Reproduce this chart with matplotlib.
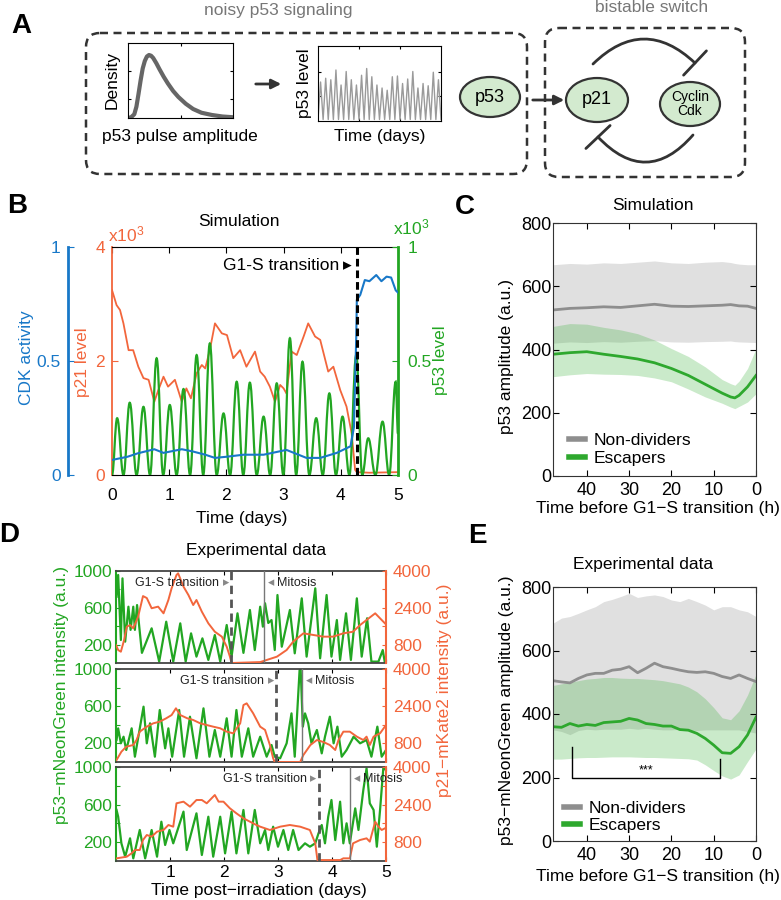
"""
p53 pulses, p21 and the G1-S switch: schematic, simulation and experimental panels A-E.
"""
import matplotlib
matplotlib.use("Agg")
import matplotlib.pyplot as plt
from matplotlib.patches import FancyBboxPatch, Ellipse, FancyArrowPatch, PathPatch
from matplotlib.path import Path
from matplotlib.lines import Line2D

# ---------------- data ----------------
# A: schematic density of pulse amplitudes and a noisy pulse train
dens_x = [0, 0.03, 0.06, 0.08, 0.10, 0.12, 0.14, 0.16, 0.18, 0.20, 0.22, 0.24, 0.27,
          0.30, 0.34, 0.38, 0.43, 0.48, 0.55, 0.62, 0.70, 0.80, 0.90, 1.0]
dens_y = [0, 0.01, 0.05, 0.15, 0.32, 0.50, 0.66, 0.76, 0.82, 0.84, 0.83, 0.80, 0.73,
          0.65, 0.55, 0.46, 0.36, 0.28, 0.19, 0.12, 0.07, 0.04, 0.02, 0.01]
train_peaks = [0.52, 0.57, 0.55, 0.68, 0.48, 0.66, 0.55, 0.48, 0.61, 0.70, 0.59, 0.48,
               0.44, 0.41, 0.59, 0.60, 0.50, 0.56, 0.66, 0.44, 0.50, 0.47, 0.65, 0.55]

# B: simulation (days)
b_p21_t = [0, 0.08, 0.14, 0.2, 0.29, 0.37, 0.46, 0.55, 0.64, 0.74, 0.81, 0.9, 0.98, 1.1,
           1.22, 1.3, 1.38, 1.48, 1.57, 1.63, 1.71, 1.8, 1.92, 2.01, 2.12, 2.24, 2.35,
           2.5, 2.59, 2.67, 2.76, 2.85, 2.94, 3.0, 3.05, 3.14, 3.23, 3.35, 3.43, 3.55,
           3.64, 3.78, 3.87, 3.99, 4.1, 4.19, 4.25, 4.28, 4.5, 5.0]
b_p21 = [3245, 2980, 2895, 2660, 2190, 2190, 1900, 1700, 1670, 1286, 1490, 1725, 1550,
         1670, 1286, 1520, 1345, 1785, 1930, 1870, 2190, 2660, 2485, 2455, 2050, 2190,
         1900, 2165, 1815, 1725, 1550, 1286, 1580, 1520, 1430, 2165, 2105, 2430, 2660,
         2430, 2370, 1815, 1900, 1490, 1200, 730, 90, 50, 40, 50]
b_p53_t = [0.09, 0.31, 0.55, 0.78, 1.01, 1.25, 1.48, 1.71, 1.95, 2.18, 2.41, 2.65, 2.88,
           3.11, 3.33, 3.57, 3.80, 4.03, 4.27, 4.48, 4.73, 4.96]
b_p53 = [249, 317, 299, 512, 307, 377, 526, 577, 270, 409, 405, 256, 402, 600, 497, 249,
         358, 256, 526, 161, 234, 409]
b_cdk_t = [0, 0.27, 0.45, 0.74, 0.9, 1.22, 1.4, 1.63, 1.8, 2.0, 2.3, 2.65, 3.05, 3.4,
           3.64, 3.93, 4.17, 4.23, 4.27, 4.28, 4.34, 4.42, 4.5, 4.62, 4.71, 4.8, 4.88,
           4.96, 5.0]
b_cdk = [0.066, 0.08, 0.095, 0.113, 0.097, 0.113, 0.104, 0.089, 0.075, 0.08, 0.089,
         0.089, 0.11, 0.075, 0.075, 0.097, 0.126, 0.21, 0.607, 0.768, 0.79, 0.855, 0.85,
         0.877, 0.85, 0.87, 0.866, 0.81, 0.80]
b_g1s = 4.28

# C: simulation, hours before G1-S
c_t = [48, 44, 40, 36, 32, 28, 24, 20, 16, 12, 8, 6, 5, 4, 2, 0]
c_non_mean = [525, 530, 532, 535, 533, 538, 543, 537, 536, 538, 540, 542, 540, 538, 537, 530]
c_non_hi = [668, 672, 670, 674, 672, 676, 680, 674, 672, 676, 678, 675, 672, 670, 668, 668]
c_non_lo = [420, 424, 422, 425, 423, 426, 428, 424, 423, 425, 426, 427, 425, 424, 423, 422]
c_esc_mean = [385, 390, 393, 385, 378, 370, 358, 340, 318, 290, 262, 250, 247, 255, 282, 318]
c_esc_hi = [473, 482, 480, 470, 462, 450, 430, 403, 378, 345, 305, 292, 287, 300, 340, 403]
c_esc_lo = [314, 320, 324, 322, 321, 318, 310, 298, 275, 250, 230, 218, 213, 220, 234, 260]

# D: three experimental cells (days post-irradiation)
d1_t = [0.01, 0.04, 0.09, 0.12, 0.17, 0.23, 0.27, 0.32, 0.35, 0.39, 0.48, 0.66, 0.80, 0.93,
        1.06, 1.19, 1.29, 1.39, 1.49, 1.60, 1.71, 1.83, 1.93, 2.05, 2.14, 2.25, 2.36, 2.48,
        2.57, 2.67, 2.72, 2.76, 2.82, 2.88, 2.94, 2.99, 3.07, 3.22, 3.31, 3.44, 3.53, 3.69,
        3.78, 3.90, 3.99, 4.09, 4.15, 4.26, 4.35, 4.46, 4.55, 4.65, 4.73, 4.86, 4.94, 4.98]
d1_p53 = [720, 957, 250, 920, 232, 612, 360, 612, 360, 630, 110, 377, 15, 449, 15, 431, 15,
          322, 69, 268, 33, 304, 15, 413, 69, 540, 110, 576, 141, 612, 395, 649, 435, 467,
          141, 739, 177, 576, 105, 703, 69, 812, 51, 739, 69, 467, 33, 540, 33, 703, 69,
          486, 15, 15, 141, 0]
d1_p21_t = [0.0, 0.04, 0.09, 0.15, 0.2, 0.26, 0.32, 0.41, 0.5, 0.57, 0.66, 0.78, 0.88, 0.97,
            1.03, 1.12, 1.15, 1.25, 1.34, 1.43, 1.49, 1.59, 1.71, 1.83, 1.96, 2.05, 2.11,
            2.14, 2.67, 2.98, 3.16, 3.28, 3.47, 3.65, 3.84, 4.02, 4.21, 4.39, 4.52, 4.64,
            4.80, 4.92, 4.98]
d1_p21 = [783, 565, 490, 1000, 1580, 1650, 1510, 2015, 2910, 2825, 2380, 2450, 2160, 2740,
          3250, 3825, 3900, 3320, 2960, 2520, 2740, 2230, 1725, 1360, 1145, 710, 275, 0, 40,
          275, 565, 925, 1290, 1220, 1145, 1145, 1290, 1360, 1650, 1870, 2160, 1870, 1725]

d2_t = [0.01, 0.04, 0.09, 0.14, 0.19, 0.29, 0.35, 0.51, 0.57, 0.63, 0.72, 0.81, 0.91, 0.97,
        1.04, 1.17, 1.26, 1.37, 1.49, 1.62, 1.73, 1.83, 1.93, 2.05, 2.14, 2.23, 2.33, 2.45,
        2.54, 2.67, 2.79, 2.88, 2.94, 3.04, 3.16, 3.25, 3.31, 3.40, 3.42, 3.46, 3.50, 3.56,
        3.62, 3.72, 3.81, 3.87, 3.96, 4.03, 4.10, 4.18, 4.27, 4.40, 4.52, 4.64, 4.73, 4.84,
        4.92, 5.0]
d2_p53 = [237, 362, 201, 272, 129, 362, 57, 595, 201, 416, 57, 559, 147, 362, 57, 559, 57,
          487, 40, 577, 57, 344, 57, 470, 57, 559, 57, 362, 57, 272, 57, 183, 57, 40, 201,
          523, 57, 990, 990, 380, 523, 416, 201, 344, 93, 272, 487, 201, 380, 57, 129, 272,
          201, 237, 57, 380, 57, 129]
d2_p21_t = [0.01, 0.1, 0.19, 0.32, 0.38, 0.44, 0.57, 0.69, 0.81, 0.93, 1.03, 1.11, 1.19,
            1.32, 1.43, 1.56, 1.68, 1.80, 1.93, 2.05, 2.17, 2.30, 2.36, 2.42, 2.54, 2.67,
            2.76, 2.85, 2.91, 2.94, 3.41, 3.47, 3.60, 3.72, 3.84, 3.96, 4.06, 4.12, 4.21,
            4.33, 4.46, 4.58, 4.64, 4.70, 4.77, 4.89, 5.0]
d2_p21 = [86, 443, 658, 731, 946, 1305, 1520, 1663, 1735, 1880, 2020, 2310, 2020, 1880,
          1806, 1663, 1590, 1520, 1450, 1305, 1234, 1663, 2450, 2523, 2095, 1520, 1380, 731,
          158, 0, 0, 300, 731, 946, 860, 731, 516, 946, 1305, 1305, 1090, 946, 1090, 731,
          1090, 1234, 1590]

d3_t = [0.01, 0.04, 0.1, 0.17, 0.26, 0.32, 0.44, 0.54, 0.66, 0.76, 0.84, 0.91, 0.99, 1.06,
        1.25, 1.31, 1.49, 1.59, 1.71, 1.80, 1.93, 2.02, 2.14, 2.23, 2.36, 2.45, 2.57, 2.67,
        2.76, 2.82, 2.91, 3.0, 3.10, 3.19, 3.28, 3.38, 3.50, 3.59, 3.69, 3.75, 3.81, 3.87,
        3.93, 3.99, 4.06, 4.15, 4.21, 4.27, 4.33, 4.43, 4.49, 4.58, 4.64, 4.70, 4.77, 4.83,
        4.89, 4.95, 5.0]
d3_p53 = [543, 471, 188, 46, 241, 28, 330, 28, 330, 46, 418, 170, 330, 188, 525, 117, 507,
          64, 471, 46, 471, 81, 525, 81, 543, 81, 543, 188, 330, 117, 365, 152, 330, 117,
          330, 117, 188, 152, 188, 294, 383, 188, 471, 649, 223, 631, 188, 401, 188, 560,
          330, 755, 986, 613, 543, 152, 543, 986, 968]
d3_p21_t = [0.01, 0.2, 0.29, 0.35, 0.44, 0.5, 0.57, 0.66, 0.76, 0.88, 0.97, 1.06, 1.12,
            1.25, 1.37, 1.49, 1.59, 1.68, 1.77, 1.83, 1.90, 1.99, 2.11, 2.23, 2.36, 2.48,
            2.60, 2.67, 2.85, 3.04, 3.22, 3.41, 3.59, 3.69, 3.73, 4.15, 4.21, 4.33, 4.39,
            4.52, 4.64, 4.70, 4.80, 4.86, 4.92, 4.98]
d3_p21 = [113, 184, 328, 468, 468, 894, 1106, 1035, 1248, 1320, 1532, 1460, 2455, 2525,
          2312, 2596, 2596, 2455, 2667, 2808, 2525, 2525, 2241, 2028, 1816, 1674, 1532, 1461,
          1320, 1461, 1532, 1461, 1320, 752, 40, 40, 113, 113, 752, 894, 965, 823, 1674,
          1461, 1320, 1390]
d_g1s = [2.13, 2.96, 3.75]
d_mitosis = [2.74, 3.44, 4.34]

# E: experimental, hours before G1-S
e_t = [48, 46, 44, 42, 40, 38, 36, 34, 32, 30, 28, 26, 24, 22, 20, 18, 16, 14, 12, 10, 8, 6, 4, 2, 0]
e_non_mean = [505, 501, 498, 512, 523, 528, 528, 538, 541, 549, 530, 544, 560, 549, 544, 538,
              533, 531, 533, 528, 518, 512, 523, 512, 502]
e_non_hi = [686, 702, 707, 717, 728, 738, 754, 761, 770, 780, 767, 772, 775, 770, 759, 754,
            764, 754, 743, 728, 738, 738, 728, 722, 707]
e_non_lo = [350, 345, 335, 348, 352, 350, 352, 352, 352, 355, 352, 355, 352, 350, 350, 352,
            350, 348, 350, 350, 350, 350, 350, 345, 340]
e_esc_mean = [360, 358, 370, 362, 367, 364, 373, 375, 377, 386, 381, 370, 367, 362, 362, 351,
              349, 339, 323, 302, 278, 276, 297, 334, 390]
e_esc_hi = [490, 495, 500, 505, 510, 512, 515, 515, 513, 512, 512, 510, 508, 505, 500, 495,
            485, 470, 448, 420, 388, 382, 410, 460, 525]
e_esc_lo = [258, 258, 260, 262, 263, 263, 264, 265, 265, 265, 264, 263, 263, 262, 261, 260,
            259, 255, 240, 222, 205, 195, 208, 250, 290]
e_bracket_t = [43.6, 8.4]
e_bracket_y = [296, 200, 258]

# ---------------- style ----------------
plt.rcParams["font.family"] = ["Liberation Sans", "DejaVu Sans"]
plt.rcParams["mathtext.fontset"] = "custom"
plt.rcParams["mathtext.rm"] = "Liberation Sans"
plt.rcParams["mathtext.default"] = "regular"

ORANGE = "#f2663c"
GREEN = "#22a622"
BLUE = "#1878c8"
NODE = "#d3eacf"
DARK = "#333333"
FS = 12.5

W, H = 781, 900
fig = plt.figure(figsize=(W / 100, H / 100), dpi=100)


def px_axes(x0, y0, x1, y1):
    return fig.add_axes([x0 / W, 1 - y1 / H, (x1 - x0) / W, (y1 - y0) / H])


def put(s, x, y, **kw):
    kw.setdefault("fontsize", FS)
    kw.setdefault("ha", "center")
    kw.setdefault("va", "center")
    return fig.text(x / W, 1 - y / H, s, **kw)


def smooth_path(pts):
    # cubic segments with flat tangents at every peak / trough vertex
    verts, codes = [pts[0]], [Path.MOVETO]
    for (xa, ya), (xb, yb) in zip(pts[:-1], pts[1:]):
        d = (xb - xa) * 0.4
        verts += [(xa + d, ya), (xb - d, yb), (xb, yb)]
        codes += [Path.CURVE4] * 3
    return Path(verts, codes)


bg = fig.add_axes([0, 0, 1, 1])
bg.set_xlim(0, W)
bg.set_ylim(H, 0)
bg.axis("off")

# ---------------- A ----------------
put("A", 21, 26, fontsize=20, weight="bold")
put("noisy p53 signaling", 278, 11, color="#777777")
put("bistable switch", 652, 8, color="#777777")
for (x, y, w, h) in [(86, 33, 441, 141), (545, 28, 200, 149)]:
    bg.add_patch(FancyBboxPatch((x, y), w, h, boxstyle="round,pad=0,rounding_size=14",
                                fill=False, ec=DARK, lw=1.8, ls=(0, (3.2, 2.2))))

ax = px_axes(128, 43, 233, 118)
ax.plot(dens_x, dens_y, color="#666666", lw=3, solid_capstyle="round")
ax.set_xlim(0, 1)
ax.set_ylim(0, 1)
ax.set_xticks([0.5])
ax.set_yticks([0.25, 0.63])
ax.tick_params(direction="in", length=2, top=True, right=True,
               labelbottom=False, labelleft=False)
put("Density", 112, 80, rotation=90)
put("p53 pulse amplitude", 180, 137)

ax = px_axes(318, 46, 441, 121)
zz_x, zz_y = [0], [0.02]
for i, p in enumerate(train_peaks):
    zz_x += [i + 0.5, i + 1]
    zz_y += [p, 0.02]
ax.plot(zz_x, zz_y, color="#9a9a9a", lw=1)
ax.set_xlim(0, len(train_peaks))
ax.set_ylim(0, 1)
ax.set_xticks([8, 16])
ax.set_yticks([0.33, 0.66])
ax.tick_params(direction="in", length=2, top=True, right=True,
               labelbottom=False, labelleft=False)
put("p53 level", 304, 83, rotation=90)
put("Time (days)", 380, 137)

bg.annotate("", xy=(284, 84), xytext=(253, 84),
            arrowprops=dict(arrowstyle="-|>", color=DARK, lw=2, mutation_scale=14))
bg.annotate("", xy=(567, 100), xytext=(530, 100),
            arrowprops=dict(arrowstyle="-|>", color=DARK, lw=2, mutation_scale=14))
for (cx, cy, w, h, label, fs) in [(490, 97, 60, 40, "p53", 13),
                                  (597, 100, 62, 44, "p21", 13),
                                  (690, 104, 60, 44, "Cyclin\nCdk", 10)]:
    bg.add_patch(Ellipse((cx, cy), w, h, fc=NODE, ec=DARK, lw=1.6))
    bg.text(cx, cy, label, fontsize=fs, ha="center", va="center", linespacing=1.0)
for (pa, pb, rad) in [((593, 64), (695, 63), -0.48), ((693, 135), (598, 137), -0.55)]:
    bg.add_patch(FancyArrowPatch(pa, pb, connectionstyle=f"arc3,rad={rad}",
                                 arrowstyle="-[,widthB=1.0,lengthB=0", mutation_scale=12,
                                 color=DARK, lw=2, shrinkA=0, shrinkB=0))

# ---------------- B ----------------
put("B", 17, 206, fontsize=20, weight="bold")
put("Simulation", 239, 222)
axB = px_axes(112, 247, 398, 475)
axB.plot(b_p21_t, b_p21, color=ORANGE, lw=1.3)
axB.set_xlim(0, 5)
axB.set_ylim(0, 4000)
axB.set_xticks(range(6))
axB.set_yticks([0, 2000, 4000])
axB.set_yticklabels(["0", "2", "4"])
axB.tick_params(axis="x", direction="in", length=4, top=True, pad=9, labelsize=FS)
axB.tick_params(axis="y", colors=ORANGE, direction="in", length=4, pad=5, labelsize=FS)
axB.spines["left"].set_color(ORANGE)
axB.spines["left"].set_linewidth(1.3)
axB.spines["right"].set_visible(False)

axG = axB.twinx()
pts = [(0, 0)]
for i, (tp, hp) in enumerate(zip(b_p53_t, b_p53)):
    if i > 0:
        pts.append(((b_p53_t[i - 1] + tp) / 2, 0))
    pts.append((tp, hp))
pts.append((5.0, 180))
axG.add_patch(PathPatch(smooth_path(pts), fill=False, ec=GREEN, lw=1.6))
axG.set_xlim(0, 5)
axG.set_ylim(0, 1000)
axG.set_yticks([0, 500, 1000])
axG.set_yticklabels(["0", "0.5", "1"])
axG.tick_params(axis="y", colors=GREEN, direction="in", length=4, pad=7, labelsize=FS)
axG.spines["right"].set_color(GREEN)
axG.spines["right"].set_linewidth(2)
for s in ["left", "top", "bottom"]:
    axG.spines[s].set_visible(False)

axK = axB.twinx()
axK.plot(b_cdk_t, b_cdk, color=BLUE, lw=1.5)
axK.axvline(b_g1s, color="k", lw=2.2, ls=(0, (2.5, 1.3)))
axK.set_ylim(0, 1)
axK.yaxis.tick_left()
axK.spines["left"].set_position(("outward", 32))
axK.spines["left"].set_color(BLUE)
axK.spines["left"].set_linewidth(2)
for s in ["right", "top", "bottom"]:
    axK.spines[s].set_visible(False)
axK.set_yticks([0, 0.5, 1])
axK.set_yticklabels(["0", "0.5", "1"])
axK.tick_params(axis="y", colors=BLUE, direction="in", length=4, pad=5, labelsize=FS)
axK.annotate("G1-S transition", xy=(b_g1s, 0.917), xycoords=("data", "axes fraction"),
             xytext=(-18, 0), textcoords="offset pixels", ha="right", va="center", fontsize=FS)
axK.annotate("\u25b8", xy=(b_g1s, 0.917), xycoords=("data", "axes fraction"),
             xytext=(-9, 0), textcoords="offset pixels", ha="center", va="center", fontsize=FS)
put("x10$^3$", 108, 234, ha="left", color=ORANGE)
put("x10$^3$", 393, 227, ha="left", color=GREEN)
put("CDK activity", 27, 358, rotation=90, color=BLUE)
put("p21 level", 82, 362, rotation=90, color=ORANGE)
put("p53 level", 440, 360, rotation=90, color=GREEN)
put("Time (days)", 242, 518)


# ---------------- C and E ----------------
def band_panel(rect, t, nm, nlo, nhi, em, elo, ehi, leg_anchor):
    ax = px_axes(*rect)
    ax.fill_between(t, nlo, nhi, color="#e0e0e0", lw=0)
    ax.fill_between(t, elo, ehi, color="#33b033", alpha=0.26, lw=0)
    ax.plot(t, nm, color="#8e8e8e", lw=2)
    ax.plot(t, em, color="#2ea82e", lw=2)
    ax.set_xlim(48, 0)
    ax.set_ylim(0, 800)
    ax.set_xticks([40, 30, 20, 10, 0])
    ax.set_yticks(range(0, 801, 200))
    ax.tick_params(direction="in", length=4, top=True, right=True, labelsize=13)
    ax.tick_params(axis="x", pad=4)
    ax.tick_params(axis="y", pad=1)
    for s in ax.spines.values():
        s.set_color(DARK)
    handles = [Line2D([], [], color="#8e8e8e", lw=4), Line2D([], [], color="#2ea82e", lw=4)]
    ax.legend(handles, ["Non-dividers", "Escapers"], loc="lower left",
              bbox_to_anchor=leg_anchor, frameon=False, fontsize=FS, borderpad=0,
              borderaxespad=0, handlelength=0.9, handletextpad=0.5, labelspacing=0.15)
    return ax


put("C", 465, 207, fontsize=20, weight="bold")
put("Simulation", 653, 205)
band_panel((553, 223, 756, 476), c_t, c_non_mean, c_non_lo, c_non_hi,
           c_esc_mean, c_esc_lo, c_esc_hi, (0.08, 0.04))
put("p53 amplitude (a.u.)", 507, 357, rotation=90)
put("Time before G1\u2212S transition (h)", 658, 509)

put("E", 477, 536, fontsize=20, weight="bold")
put("Experimental data", 643, 565)
axE = band_panel((553, 587, 756, 841), e_t, e_non_mean, e_non_lo, e_non_hi,
                 e_esc_mean, e_esc_lo, e_esc_hi, (0.055, 0.03))
axE.plot([e_bracket_t[0], e_bracket_t[0], e_bracket_t[1], e_bracket_t[1]],
         [e_bracket_y[0], e_bracket_y[1], e_bracket_y[1], e_bracket_y[2]], color="k", lw=1)
axE.text(sum(e_bracket_t) / 2, e_bracket_y[1] + 22, "***", ha="center", va="center", fontsize=9)
put("p53\u2212mNeonGreen amplitude (a.u.)", 507, 710, rotation=90)
put("Time before G1\u2212S transition (h)", 658, 877)

# ---------------- D ----------------
put("D", 9, 535, fontsize=20, weight="bold")
put("Experimental data", 256, 550)
d_rows = [(571, 663), (669, 762), (767, 861)]
d_series = [(d1_t, d1_p53, d1_p21_t, d1_p21),
            (d2_t, d2_p53, d2_p21_t, d2_p21),
            (d3_t, d3_p53, d3_p21_t, d3_p21)]
for i, ((y0, y1), (gt, gv, ot, ov)) in enumerate(zip(d_rows, d_series)):
    axL = px_axes(116, y0, 386, y1)
    axL.plot(gt, gv, color=GREEN, lw=1.6)
    axL.set_xlim(0, 5)
    axL.set_ylim(0, 1000)
    axL.set_xticks([1, 2, 3, 4, 5])
    axL.set_yticks([200, 400, 600, 800, 1000])
    axL.set_yticklabels(["200", "", "600", "", "1000"])
    axL.tick_params(axis="x", direction="in", length=3, top=True, pad=3,
                    labelbottom=(i == 2), labelsize=FS)
    axL.tick_params(axis="y", colors=GREEN, direction="in", length=3, pad=3, labelsize=FS)
    axL.spines["left"].set_color(GREEN)
    axL.spines["left"].set_linewidth(1.5)
    axL.spines["right"].set_visible(False)
    for s in ["top", "bottom"]:
        axL.spines[s].set_color("#444444")
        axL.spines[s].set_linewidth(1.3)

    axR = axL.twinx()
    axR.plot(ot, ov, color=ORANGE, lw=1.4)
    axR.set_ylim(0, 4000)
    axR.set_yticks([800, 1600, 2400, 3200, 4000])
    axR.set_yticklabels(["800", "", "2400", "", "4000"])
    axR.tick_params(axis="y", colors=ORANGE, direction="in", length=3, pad=5, labelsize=FS)
    axR.spines["right"].set_color(ORANGE)
    axR.spines["right"].set_linewidth(1.5)
    for s in ["left", "top", "bottom"]:
        axR.spines[s].set_visible(False)

    g1s, mit = d_g1s[i], d_mitosis[i]
    axR.axvline(g1s, color="#555555", lw=2, ls=(0, (3, 2)))
    axR.axvline(mit, color="#777777", lw=1)
    yl = 0.87
    for txt, x, dx, ha, col in [("G1-S transition", g1s, -12, "right", "#222222"),
                                ("\u25b8", g1s, -5, "center", "#888888"),
                                ("\u25c2", mit, 7, "center", "#888888"),
                                ("Mitosis", mit, 13, "left", "#222222")]:
        axR.annotate(txt, xy=(x, yl), xycoords=("data", "axes fraction"),
                     xytext=(dx, 0), textcoords="offset pixels", ha=ha, va="center",
                     fontsize=9, color=col)

put("p53\u2212mNeonGreen intensity (a.u.)", 62, 695, rotation=90, color=GREEN)
put("p21\u2212mKate2 intensity (a.u.)", 445, 690, rotation=90, color=ORANGE)
put("Time post\u2212irradiation (days)", 259, 891)

fig.savefig("out.png", dpi=100)
